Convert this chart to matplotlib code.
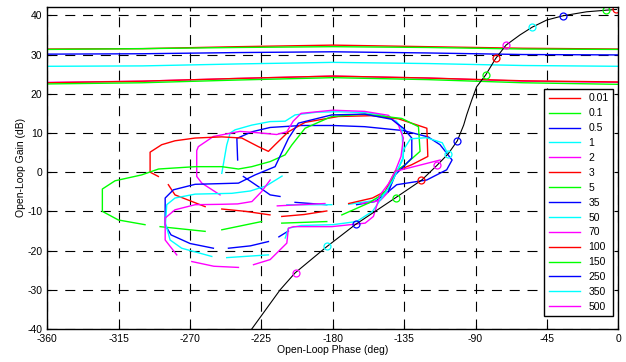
import numpy as np
import matplotlib
matplotlib.use("Agg")
import matplotlib.pyplot as plt

plt.rcParams['font.family'] = ['Liberation Sans', 'DejaVu Sans']
plt.rcParams['axes.unicode_minus'] = False

nan = np.nan

labels = ['0.01', '0.1', '0.5', '1', '2', '3', '5', '35', '50', '70',
          '100', '150', '250', '350', '500']
colors = ['#ff0000', '#00ff00', '#0000ff', '#00ffff', '#ff00ff',
          '#ff0000', '#00ff00', '#0000ff', '#00ffff', '#ff00ff',
          '#ff0000', '#00ff00', '#0000ff', '#00ffff', '#ff00ff']

# nearly flat curves (low values)
flat_phase = [-360, -300, -240, -180, -120, -60, 0]
g_001 = [31.4, 31.5, 32.0, 32.4, 32.0, 31.6, 31.4]
g_01 = [31.3, 31.5, 31.8, 32.0, 31.8, 31.4, 31.3]
g_05 = [30.1, 30.2, 30.5, 30.7, 30.4, 30.0, 29.9]
g_1 = [27.0, 27.1, 27.6, 28.0, 27.7, 27.2, 27.0]
g_2 = [22.9, 23.2, 23.9, 24.5, 24.0, 23.2, 22.9]
g_3 = [22.8, 23.2, 23.9, 24.5, 24.0, 23.3, 23.0]
g_5 = [22.5, 22.8, 23.5, 24.1, 23.6, 22.8, 22.4]

# loops (nan = gap)
ph_35 = [-240.0, -240.5, -231.0, -219.5, -200.0, -180.0, -160.0, -135.5, -120.0,
         -112.4, -104.8, -108.2, -120.8, -139.7, -146.0, -153.4, -165.0, nan,
         -183.8, -203.8]
g_35 = [3.1, 8.6, 10.3, 11.4, 11.9, 11.9, 11.6, 10.6, 9.0,
        7.0, 3.1, 0.6, -2.0, -3.2, -5.3, -7.5, -8.3, nan,
        -8.3, -7.7]

ph_50 = [-250.0, -246.9, -244.7, -241.6, -231.1, -219.5, -210.0, -203.8, -190.0,
         -176.5, -160.0, -149.0, -140.0, -136.5, -135.5, -140.7, -145.0, -155.0,
         -170.0, nan, -180.7, -209.0]
g_50 = [-0.3, 6.9, 10.0, 10.8, 12.0, 12.9, 13.0, 14.6, 15.3,
        15.4, 15.2, 14.6, 13.0, 11.2, 3.5, -0.7, -5.0, -7.3,
        -8.2, nan, -8.3, -8.3]

ph_70 = [-251.1, -262.6, -265.8, -265.8, -264.8, -255.3, -238.5, -225.9, -215.4,
         -209.0, -205.0, -200.0, -180.0, -160.0, -145.0, -138.6, -135.5, -137.0,
         -140.7, -144.9, -150.0, -162.0, nan, -185.0, -215.0]
g_70 = [-5.8, -2.8, -1.1, 5.5, 6.5, 9.1, 10.4, 10.0, 9.6,
        10.3, 13.0, 15.0, 15.8, 15.5, 14.5, 12.0, 8.7, 4.0,
        0.2, -5.0, -7.2, -8.0, nan, -8.0, -8.6]

ph_100 = [-290.0, -295.2, -295.2, -287.9, -279.5, -266.8, -250.0, -237.4, -226.9,
          -220.6, -216.4, -208.0, -197.5, -176.5, -155.4, -138.6, -120.7, -120.1,
          -130.2, -140.7, -147.0, -155.0, -170.0, nan, -183.8, -198.0, -212.2, nan,
          -219.6, -235.0, -250.0, nan, -260.5, -279.5, -283.7]
g_100 = [-1.1, 0.0, 5.1, 7.0, 8.0, 8.7, 9.0, 8.7, 6.5,
         5.3, 7.0, 10.3, 12.7, 14.2, 14.4, 13.6, 11.2, 4.0,
         1.9, 0.2, -4.9, -6.6, -8.0, nan, -9.9, -10.8, -11.3, nan,
         -10.9, -10.0, -9.4, nan, -8.8, -5.8, -3.2]

ph_150 = [-298.4, -315.2, -325.3, -325.3, -317.3, -300.5, -289.9, -266.8, -250.0,
          -239.5, -231.1, -219.5, -210.1, -205.9, -197.5, -180.7, -159.6, -136.5,
          -126.0, -125.0, -134.4, -140.7, -144.9, -150.0, -157.5, -174.3, nan,
          -183.8, -212.2, nan, -224.9, -250.0, nan, -260.5, -288.9]
g_150 = [-13.4, -12.2, -10.0, -4.3, -2.2, -0.7, 0.8, 1.4, 1.4,
         0.8, 1.4, 2.7, 4.4, 6.9, 11.2, 14.2, 14.8, 13.7,
         11.6, 5.3, 1.9, 0.2, -4.1, -6.0, -7.9, -10.9, nan,
         -12.6, -13.0, nan, -12.6, -14.7, nan, -15.1, -13.9]

ph_250 = [-145.0, -140.7, -135.5, -130.2, -130.2, -135.5, -143.0, -160.0, -180.7,
          -201.7, -208.0, -216.4, -229.0, -239.5, -266.8, -280.5, -285.7, -285.7,
          -282.0, -270.0, -255.3, nan, -245.8, -232.0, -220.6, nan, -214.0, -208.0,
          nan, -236.4, -226.9, -219.5, -213.3]
g_250 = [-5.0, -0.7, 1.4, 3.6, 8.7, 11.2, 13.5, 14.8, 14.6,
         12.5, 8.6, 1.4, -0.7, -2.8, -3.1, -4.5, -6.6, -13.5,
         -16.0, -18.2, -19.4, nan, -19.4, -18.8, -17.7, nan, -16.5, -15.0,
         nan, -1.1, -3.7, -5.8, -6.2]

ph_350 = [-107.5, -111.0, -121.0, -131.0, -135.0, -136.0, -142.0, -149.0, -155.0,
          -165.0, -180.0, -200.0, -208.0, -210.0, nan, -220.6, -246.9, nan,
          -256.3, -275.3, -282.6, -285.5, -284.7, -279.5, -266.8, -243.7, -232.0,
          -222.0, -212.0]
g_350 = [4.7, 7.5, 8.8, 8.5, 6.0, 3.5, -2.0, -6.5, -10.0,
         -12.6, -13.4, -13.6, -14.3, -16.8, nan, -21.1, -21.8, nan,
         -21.5, -19.4, -17.3, -13.0, -8.3, -6.6, -5.6, -5.4, -4.8,
         -3.5, -1.0]

ph_500 = [-112.3, -125.0, -140.7, -145.0, -150.2, -154.4, -159.6, -180.7, -204.8,
          -208.0, -209.0, -219.5, -230.0, nan, -239.5, -255.0, -268.9, nan,
          -278.4, -285.7, -285.7, -279.5, -266.8, -250.0, -240.0, -231.0, -225.0,
          -219.5]
g_500 = [3.1, 1.8, 0.2, -3.0, -5.8, -11.3, -13.0, -13.9, -13.9,
         -14.3, -18.1, -22.3, -23.6, nan, -24.3, -24.0, -22.8, nan,
         -21.1, -17.3, -11.7, -9.6, -8.3, -8.2, -8.1, -7.5, -5.0,
         -2.0]

# black reference curve and its circles
ref_phase = [-231.1, -213.2, -203.8, -183.8, -165.9, -140.7, -123.9, -114.4, -107.2,
             -101.5, -97.5, -95.6, -92.4, -89.3, -83.6, -77.3, -70.8, -62.0, -54.2,
             -45.1, -34.7, -20.0, -7.9, -1.2]
ref_gain = [-40.0, -30.0, -25.7, -19.0, -13.4, -6.6, -2.0, 1.7, 4.7,
            8.0, 12.0, 14.6, 18.4, 21.8, 24.8, 29.0, 32.4, 35.0, 37.0,
            38.8, 39.9, 40.9, 41.3, 41.5]
mark_phase = [-1.2, -7.9, -34.7, -54.2, -70.8, -77.3, -83.6, -101.5, -107.2,
              -114.1, -124.4, -140.1, -165.2, -183.4, -203.2]
mark_gain = [41.5, 41.3, 39.9, 37.0, 32.4, 29.0, 24.8, 8.0, 4.7,
             1.7, -2.0, -6.5, -13.3, -18.9, -25.7]

flat = [g_001, g_01, g_05, g_1, g_2, g_3, g_5]
loops = [(ph_35, g_35), (ph_50, g_50), (ph_70, g_70), (ph_100, g_100),
         (ph_150, g_150), (ph_250, g_250), (ph_350, g_350), (ph_500, g_500)]

fig = plt.figure(figsize=(6.26, 3.62), dpi=100)
ax = fig.add_axes([0.0756, 0.0912, 0.9121, 0.8903])

handles = []
for i, g in enumerate(flat):
    h, = ax.plot(flat_phase, g, color=colors[i], lw=1.0, label=labels[i])
    handles.append(h)
for j, (p, g) in enumerate(loops):
    i = j + 7
    h, = ax.plot(p, g, color=colors[i], lw=1.0, label=labels[i])
    handles.append(h)

ax.plot(ref_phase, ref_gain, color='k', lw=0.8)
for i in range(len(mark_phase)):
    ax.plot(mark_phase[i], mark_gain[i], 'o', mfc='none', mec=colors[i],
            ms=5, mew=0.9)

ax.set_xlim(-360, 0)
ax.set_ylim(-40, 42.2)
ax.set_xticks(range(-360, 1, 45))
ax.set_yticks(range(-40, 41, 10))
ax.grid(True, color='k', lw=0.8, linestyle=(0, (9, 7)))
ax.tick_params(direction='in', top=True, right=True, length=3, labelsize=7.5)
for s in ax.spines.values():
    s.set_linewidth(1.0)

ax.set_xlabel('Open-Loop Phase (deg)', fontsize=7.5, labelpad=1)
ax.set_ylabel('Open-Loop Gain (dB)', fontsize=7.5, labelpad=1)

leg = ax.legend(handles=handles, loc='lower right', bbox_to_anchor=(0.99, 0.04),
                fontsize=7.5, handlelength=3.0, labelspacing=0.47,
                fancybox=False, framealpha=1, edgecolor='k', borderaxespad=0)
leg.get_frame().set_linewidth(1.0)

fig.savefig('out.png', dpi=100)
